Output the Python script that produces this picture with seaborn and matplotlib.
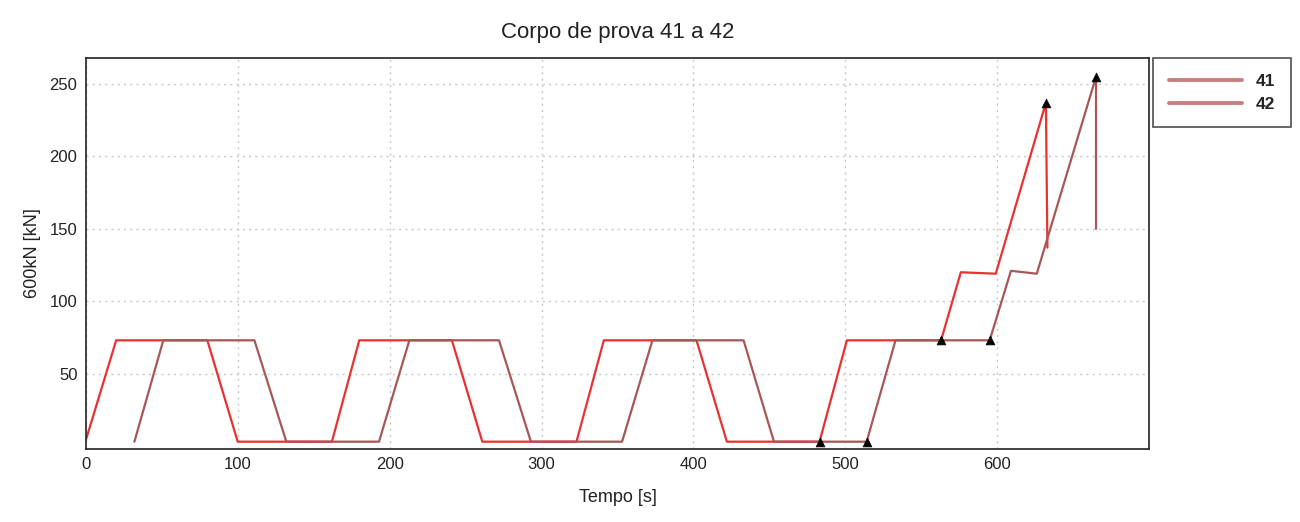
import numpy as np
import pandas as pd
import matplotlib
matplotlib.use("Agg")
import matplotlib.pyplot as plt
import seaborn as sns

# ---- data ----
t41 = [0, 20, 80, 100, 162, 180, 241, 261, 323, 341, 402, 422, 483, 501, 563, 576, 599, 632, 633]
y41 = [4, 73, 73, 3, 3, 73, 73, 3, 3, 73, 73, 3, 3, 73, 73, 120, 119, 237, 137]
t42 = [32, 51, 111, 132, 193, 213, 272, 293, 353, 373, 433, 453, 514, 533, 595, 609, 626, 665, 665]
y42 = [3, 73, 73, 3, 3, 73, 73, 3, 3, 73, 73, 3, 3, 73, 73, 121, 119, 255, 150]
mark_t = [483, 514, 563, 595, 632, 665]
mark_y = [3, 3, 73, 73, 237, 255]
series_names = ["41", "42"]
x_ticks = [0, 100, 200, 300, 400, 500, 600]
y_ticks = [50, 100, 150, 200, 250]

sns.set_theme(style="white")
plt.rcParams["font.family"] = ["Liberation Sans", "DejaVu Sans"]

fig = plt.figure(figsize=(13, 5.22), dpi=100)
ax = fig.add_axes([0.066, 0.140, 0.818, 0.749])

palette = {"41": "#e8322f", "42": "#a85656"}
for name, tt, yy in [(series_names[0], t41, y41), (series_names[1], t42, y42)]:
    sub = pd.DataFrame({"t": tt, "y": yy})
    sns.lineplot(data=sub, x="t", y="y", sort=False, estimator=None,
                 color=palette[name], linewidth=1.6, ax=ax, label=name)
sns.scatterplot(x=mark_t, y=mark_y, marker="^", s=40, color="black",
                edgecolor="black", zorder=5, ax=ax, legend=False)

ax.set_xlim(0, 700)
ax.set_ylim(-2, 268)
ax.set_xticks(x_ticks)
ax.set_yticks(y_ticks)
ax.grid(True, linestyle=(0, (1.5, 3)), color="#c8c8c8", linewidth=1.0)
for s in ax.spines.values():
    s.set_color("#222222")
    s.set_linewidth(1.2)
ax.tick_params(axis="both", length=0, labelsize=12, colors="#222222", pad=6)

ax.set_title("Corpo de prova 41 a 42", fontsize=16, pad=14, color="#222222")
ax.set_xlabel("Tempo [s]", fontsize=13, labelpad=12, color="#222222")
ax.set_ylabel("600kN [kN]", fontsize=13, labelpad=6, color="#222222")

leg = ax.legend(loc="upper left", bbox_to_anchor=(1.004, 1.0), frameon=True,
                fancybox=False, edgecolor="#222222", fontsize=12.5,
                handlelength=4.2, borderpad=0.9, labelspacing=0.45,
                handletextpad=0.8, borderaxespad=0)
for txt in leg.get_texts():
    txt.set_fontweight("bold")
for line in leg.get_lines():
    line.set_color("#c97f7f")
    line.set_linewidth(2.8)
leg.get_frame().set_linewidth(1.2)

fig.savefig("out.png", dpi=100)
